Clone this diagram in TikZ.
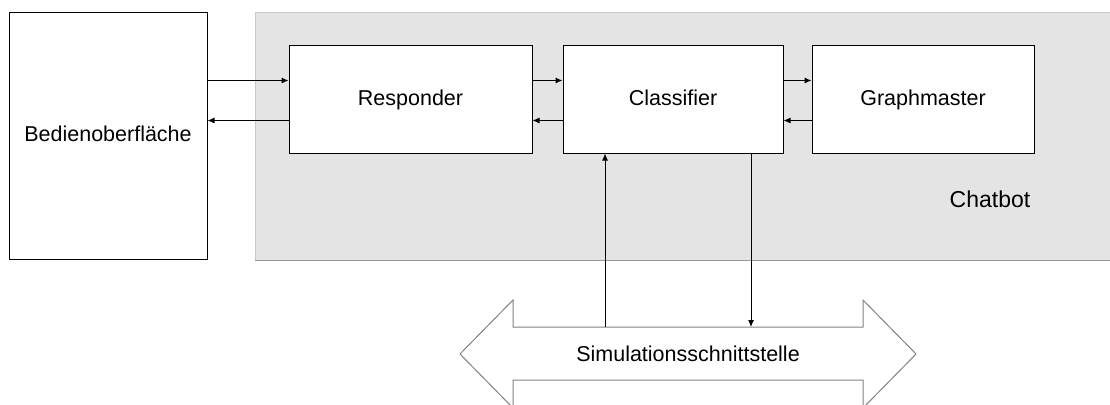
\documentclass[tikz,border=0pt]{standalone}
\usepackage{fontspec}
\setmainfont{Liberation Sans}
\usetikzlibrary{arrows.meta,calc}
\definecolor{panelfill}{RGB}{228,228,228}
\definecolor{paneledge}{RGB}{200,200,200}
\definecolor{paneldark}{RGB}{150,150,150}
\definecolor{simedge}{RGB}{130,130,130}
\tikzset{
  block/.style={draw=black, line width=1pt, fill=white, inner sep=0pt,
    text height=15.5pt, text depth=4pt,
    font=\fontsize{21.5}{26}\selectfont},
  link/.style={line width=1pt, -{Latex[length=7pt,width=6pt]}},
}
\begin{document}
\begin{tikzpicture}[x=1pt,y=-1pt]
\useasboundingbox (0,0) rectangle (1110,404);
\clip (0,0) rectangle (1110,404);

% Chatbot panel
\fill[panelfill] (255,13) rectangle (1111,260);
\draw[paneledge, line width=1pt] (1111,13) -- (255,13) -- (255,260);
\draw[paneldark, line width=1pt] (255,260) -- (1111,260);
\node[font=\fontsize{23}{28}\selectfont] (chat) at (990,199) {Chatbot};

% Blocks
\node[block, minimum width=198pt, minimum height=246pt] (bed) at (108,136) {Bedienoberfläche};
\node[block, minimum width=243pt, minimum height=107pt] (resp) at (410.5,99.5) {Responder};
\node[block, minimum width=220pt, minimum height=107pt] (cls) at (673,99.5) {Classifier};
\node[block, minimum width=222pt, minimum height=107pt] (gm) at (923,99.5) {Graphmaster};

% Horizontal links
\coordinate (r1) at ([yshift=-35pt]resp.north west);
\coordinate (r2) at ([yshift=-75pt]resp.north west);
\coordinate (r3) at ([yshift=-35pt]resp.north east);
\coordinate (r4) at ([yshift=-75pt]resp.north east);
\coordinate (g1) at ([yshift=-35pt]cls.north east);
\coordinate (g2) at ([yshift=-75pt]cls.north east);
\draw[link] (bed.east |- r1) -- (r1);
\draw[link] (r2) -- (bed.east |- r2);
\draw[link] (r3) -- (cls.west |- r3);
\draw[link] (cls.west |- r4) -- (r4);
\draw[link] (g1) -- (gm.west |- g1);
\draw[link] (gm.west |- g2) -- (g2);

% Simulation interface (double arrow)
\draw[simedge, fill=white, line width=1pt]
  (460,354) -- (513,300) -- (513,327) -- (863,327) -- (863,300) -- (916,354)
  -- (863,408) -- (863,380) -- (513,380) -- (513,408) -- cycle;
\node[font=\fontsize{21.5}{26}\selectfont] (sim) at (688,354) {Simulationsschnittstelle};
\coordinate (up) at (605,327);
\coordinate (down) at (751,327);

% Vertical links
\draw[link] (up) -- (up |- cls.south);
\draw[link] (down |- cls.south) -- (down);
\end{tikzpicture}
\end{document}
